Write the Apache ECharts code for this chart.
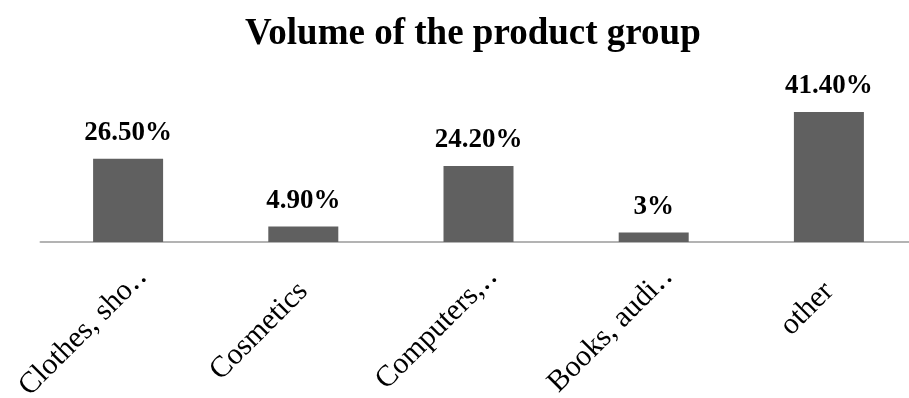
<!DOCTYPE html>
<html>
<head>
<meta charset="utf-8">
<script src="https://cdn.jsdelivr.net/npm/echarts@6/dist/echarts.min.js"></script>
<style>
  html, body { margin: 0; padding: 0; background: #fff; }
  #chart { width: 909px; height: 398px; }
</style>
</head>
<body>
<div id="chart"></div>
<script>
// Share of sales volume per product group (%)
const categories = ['Clothes, sho\u2025', 'Cosmetics', 'Computers,\u2025', 'Books, audi\u2025', 'other'];
const shares = [26.5, 4.9, 24.2, 3, 41.4];
const shareLabels = ['26.50%', '4.90%', '24.20%', '3%', '41.40%'];

const serif = '"Liberation Serif", "DejaVu Serif", serif';

// Truncated names sit a little further along their slant than complete ones
const categoryItems = categories.map(name =>
  name.endsWith('\u2025')
    ? { value: name, textStyle: { padding: [0, -21, 0, 0] } }
    : name
);

const chart = echarts.init(document.getElementById('chart'), null, { renderer: 'canvas' });
chart.setOption({
  animation: false,
  backgroundColor: '#ffffff',
  title: {
    text: 'Volume of the product group',
    left: 240,
    top: 11,
    textStyle: { fontFamily: serif, fontSize: 37, fontWeight: 'bold', color: '#000' }
  },
  grid: {
    left: 40.5, width: 876, top: 85, height: 157,
    containLabel: false,
    outerBoundsMode: 'none'
  },
  xAxis: {
    type: 'category',
    data: categoryItems,
    axisLine: { show: true, lineStyle: { color: '#b3b3b3', width: 2 } },
    axisTick: { show: false },
    axisLabel: {
      rotate: 45,
      interval: 0,
      margin: 45,
      fontFamily: serif,
      fontSize: 30,
      color: '#000'
    }
  },
  yAxis: {
    type: 'value',
    min: 0,
    max: 50,
    show: false,
    splitLine: { show: false }
  },
  series: [{
    type: 'bar',
    data: shares,
    barWidth: 70,
    itemStyle: { color: '#606060' },
    label: {
      show: true,
      position: 'top',
      distance: 12,
      fontFamily: serif,
      fontSize: 27,
      fontWeight: 'bold',
      color: '#000',
      formatter: p => shareLabels[p.dataIndex]
    }
  }]
});
</script>
</body>
</html>
